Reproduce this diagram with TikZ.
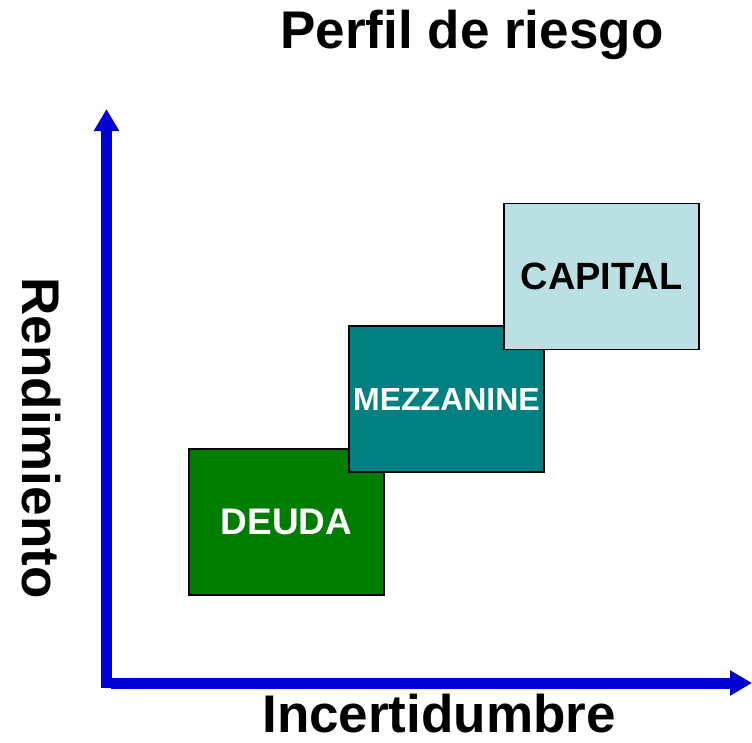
\documentclass[tikz,border=0pt]{standalone}
\usepackage{fontspec}
\setmainfont{Liberation Sans}
\usetikzlibrary{arrows.meta}

\definecolor{axisblue}{RGB}{0,0,210}
\definecolor{deudagreen}{RGB}{0,125,0}
\definecolor{mezzteal}{RGB}{0,128,128}
\definecolor{capitalblue}{RGB}{187,224,227}

\tikzset{
  riskbox/.style={draw=black, line width=1.2pt, minimum width=195pt, minimum height=146pt, inner sep=0pt},
  axis/.style={axisblue, line width=11pt, -{Triangle[width=24pt,length=22pt]}},
  bigtext/.style={font=\fontsize{53}{60}\selectfont\bfseries, anchor=base, inner sep=0pt}
}

\begin{document}
\begin{tikzpicture}[x=1pt,y=-1pt]
  \useasboundingbox (0,0) rectangle (752,742);
  \node[bigtext] (title) at (472,48) {Perfil de riesgo};
  \node[bigtext] (xlabel) at (439,732) {Incertidumbre};
  \node[bigtext, rotate=-90] (ylabel) at (23,438) {Rendimiento};

  \coordinate (ybase) at (106.5,688);
  \coordinate (ytop) at (106.5,109);
  \coordinate (xbase) at (111,683);
  \coordinate (xend) at (752,683);
  \draw[axis] (ybase) -- (ytop);
  \draw[axis] (xbase) -- (xend);

  \node[riskbox, fill=deudagreen, text=white, font=\fontsize{37}{44}\selectfont\bfseries] (deuda) at (286.5,522) {DEUDA};
  \node[riskbox, fill=mezzteal, text=white, font=\fontsize{32}{38}\selectfont\bfseries] (mezz) at (446.5,399) {MEZZANINE};
  \node[riskbox, fill=capitalblue, text=black, font=\fontsize{38}{44}\selectfont\bfseries] (capital) at (601.5,276.5) {CAPITAL};
\end{tikzpicture}
\end{document}
